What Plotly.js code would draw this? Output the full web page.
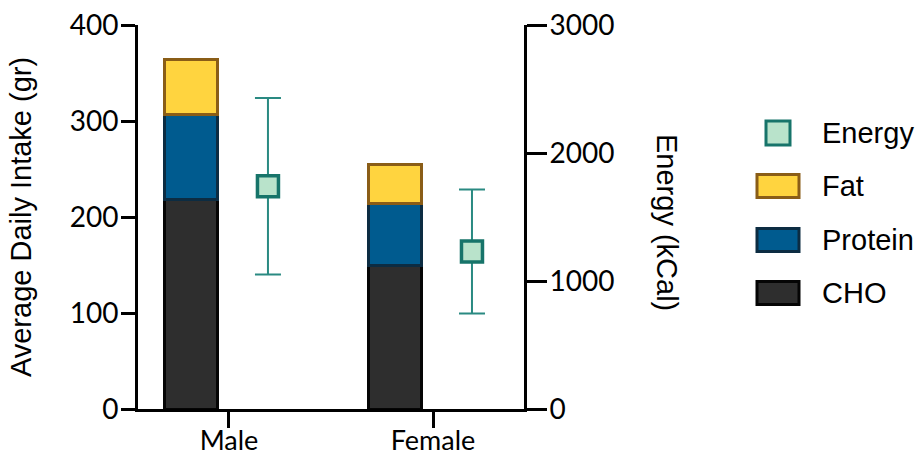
<!DOCTYPE html>
<html>
<head>
<meta charset="utf-8">
<script src="https://cdn.plot.ly/plotly-3.0.1.min.js"></script>
<style>html,body{margin:0;padding:0;background:#fff;}#chart{width:922px;height:459px;}</style>
</head>
<body>
<div id="chart"></div>
<script>
// ---- data ----
const categories = ['Male', 'Female'];
const cho = [218, 150];
const protein = [89, 64];
const fat = [57, 41];
const energyMean = [1740, 1230];
const energySD = [690, 484];
const legendNames = ['Energy', 'Fat', 'Protein', 'CHO'];
const leftTicks = [0, 100, 200, 300, 400];
const rightTicks = [0, 1000, 2000, 3000];

// ---- styles ----
const W = 922, H = 459;
const M = {l: 138, r: 398, t: 25, b: 50};
const plotW = W - M.l - M.r, plotH = H - M.t - M.b;
const px2x = p => (p - M.l) / plotW;
const py2y = p => (H - M.b - p) / plotH;

const colors = {
  CHO: {fill: '#2e2e2e', line: '#050505'},
  Protein: {fill: '#005b8f', line: '#0c2c42'},
  Fat: {fill: '#ffd43f', line: '#8a5d17'},
  Energy: {fill: '#b9e3cb', line: '#17746a', err: '#2a8a82'}
};
const tickFont = {family: 'Lato, "Liberation Sans", sans-serif', size: 28, color: '#000'};
const xTickFont = {family: 'Lato, "Liberation Sans", sans-serif', size: 27, color: '#000'};
const labFont = {family: '"Liberation Sans", Arial, sans-serif', size: 29, color: '#000'};

const barWidth = 0.26, barOffset = -0.315;
function barTrace(name, vals) {
  return {
    type: 'bar', name: name, x: categories, y: vals,
    width: barWidth, offset: barOffset,
    marker: {color: colors[name].fill, line: {color: colors[name].line, width: 3}},
    showlegend: false, hoverinfo: 'y'
  };
}

const traces = [
  barTrace('CHO', cho),
  barTrace('Protein', protein),
  barTrace('Fat', fat),
  {
    type: 'scatter', mode: 'markers', name: 'Energy',
    x: categories, y: energyMean, xaxis: 'x2', yaxis: 'y2',
    marker: {symbol: 'square', size: 21, color: colors.Energy.fill,
             line: {color: colors.Energy.line, width: 3.5}},
    error_y: {type: 'data', array: energySD, visible: true,
              color: colors.Energy.err, thickness: 2, width: 13},
    showlegend: false
  }
];

// ---- legend (manual, large swatches) ----
const shapes = [];
const annotations = [];
const legY = [133, 186, 240, 293];
legendNames.forEach((n, i) => {
  const cy = legY[i];
  let x0, x1, h;
  if (n === 'Energy') { x0 = 766; x1 = 790; h = 24; }
  else { x0 = 757; x1 = 799; h = 23; }
  shapes.push({
    type: 'rect', xref: 'paper', yref: 'paper',
    x0: px2x(x0), x1: px2x(x1), y0: py2y(cy + h / 2), y1: py2y(cy - h / 2),
    fillcolor: colors[n].fill, line: {color: colors[n].line, width: 3}
  });
  annotations.push({
    xref: 'paper', yref: 'paper', x: px2x(820), y: py2y(cy),
    xanchor: 'left', yanchor: 'middle', showarrow: false,
    text: n, font: labFont
  });
});
annotations.push({
  xref: 'paper', yref: 'paper', x: px2x(667), y: py2y(222),
  xanchor: 'center', yanchor: 'middle', showarrow: false, textangle: 90,
  text: 'Energy (kCal)', font: labFont
});

const layout = {
  width: W, height: H,
  margin: M,
  paper_bgcolor: '#fff', plot_bgcolor: '#fff',
  barmode: 'stack',
  showlegend: false,
  xaxis: {
    type: 'category', categoryorder: 'array', categoryarray: categories,
    range: [-0.446, 1.446], showline: true, linewidth: 3, linecolor: '#000',
    ticks: 'outside', ticklen: 16, tickwidth: 3, tickcolor: '#000',
    ticklabelstandoff: -10,
    tickfont: xTickFont, showgrid: false, zeroline: false, fixedrange: true
  },
  xaxis2: {
    type: 'category', categoryorder: 'array', categoryarray: categories,
    overlaying: 'x', anchor: 'y2', range: [-0.637, 1.255],
    visible: false, showgrid: false, zeroline: false
  },
  yaxis: {
    range: [0, 400], tickvals: leftTicks, showline: true, linewidth: 3, linecolor: '#000',
    ticks: 'outside', ticklen: 14, tickwidth: 3, tickcolor: '#000',
    ticklabelstandoff: -3,
    tickfont: tickFont, showgrid: false, zeroline: false,
    title: {text: 'Average Daily Intake (gr)', font: labFont, standoff: 30}
  },
  yaxis2: {
    range: [0, 3000], tickvals: rightTicks, overlaying: 'y', side: 'right', anchor: 'x2',
    showline: true, linewidth: 3, linecolor: '#000',
    ticks: 'outside', ticklen: 20, tickwidth: 3, tickcolor: '#000',
    ticklabelstandoff: -3,
    tickfont: tickFont, showgrid: false, zeroline: false
  },
  shapes: shapes,
  annotations: annotations
};

Plotly.newPlot('chart', traces, layout, {displayModeBar: false, staticPlot: true});
</script>
</body>
</html>
